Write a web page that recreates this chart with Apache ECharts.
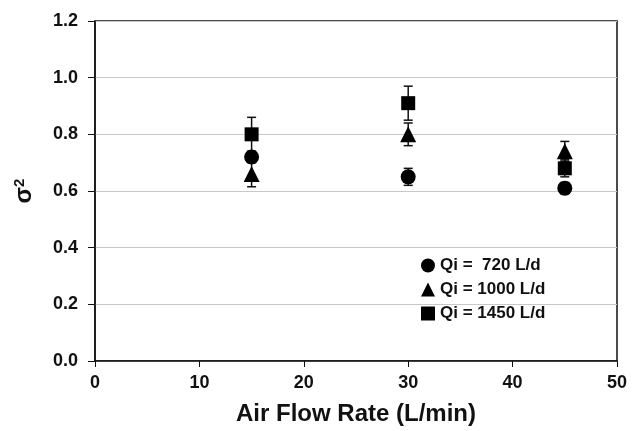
<!DOCTYPE html>
<html><head><meta charset="utf-8">
<script src="https://cdn.jsdelivr.net/npm/echarts@6/dist/echarts.min.js"></script>
<style>html,body{margin:0;padding:0;background:#fff}#c{width:632px;height:431px}</style>
</head><body><div id="c"></div>
<script>
const airFlow = [15, 30, 45];
const names = ['Qi =  720 L/d', 'Qi = 1000 L/d', 'Qi = 1450 L/d'];
const q720 = [0.72, 0.65, 0.61];
const q720Err = [0.02, 0.03, 0.02];
const q1000 = [0.66, 0.80, 0.74];
const q1000Err = [0.045, 0.04, 0.035];
const q1450 = [0.80, 0.91, 0.68];
const q1450Err = [0.06, 0.06, 0.03];
const xTicks = [0, 10, 20, 30, 40, 50];
const yTicks = [0, 0.2, 0.4, 0.6, 0.8, 1.0, 1.2];

const symbols = ['circle', 'triangle', 'rect'];
const sizes = [15, 16, 14];
const vals = [q720, q1000, q1450];
const errs = [q720Err, q1000Err, q1450Err];
const font = 'Arial, "Liberation Sans", sans-serif';

const series = [];
vals.forEach((v, i) => {
  series.push({
    type: 'custom',
    name: names[i] + '_err',
    data: airFlow.map((x, j) => [x, v[j] - errs[i][j], v[j] + errs[i][j]]),
    renderItem: function (params, api) {
      const lo = api.coord([api.value(0), api.value(1)]);
      const hi = api.coord([api.value(0), api.value(2)]);
      const w = 4.5;
      const st = { stroke: '#111', lineWidth: 1.5 };
      return {
        type: 'group',
        children: [
          { type: 'line', shape: { x1: lo[0], y1: lo[1], x2: hi[0], y2: hi[1] }, style: st },
          { type: 'line', shape: { x1: lo[0] - w, y1: lo[1], x2: lo[0] + w, y2: lo[1] }, style: st },
          { type: 'line', shape: { x1: hi[0] - w, y1: hi[1], x2: hi[0] + w, y2: hi[1] }, style: st }
        ]
      };
    },
    z: 1
  });
  series.push({
    type: 'scatter',
    name: names[i],
    symbol: symbols[i],
    symbolSize: sizes[i],
    itemStyle: { color: '#000', opacity: 1 },
    data: airFlow.map((x, j) => [x, v[j]]),
    z: 3
  });
});

const chart = echarts.init(document.getElementById('c'));
chart.setOption({
  animation: false,
  backgroundColor: '#fff',
  grid: { left: 95, right: 15, top: 21, bottom: 69, show: true, borderColor: '#111', borderWidth: 1.5 },
  legend: {
    data: names.map((n, i) => ({ name: n, icon: symbols[i] })),
    orient: 'vertical',
    left: 416, top: 252,
    itemWidth: 14, itemHeight: 14, itemGap: 7,
    textStyle: { fontFamily: font, fontWeight: 'bold', fontSize: 17, color: '#111', padding: [0, 0, 0, 0] }
  },
  xAxis: {
    type: 'value', min: 0, max: 50, interval: 10,
    name: 'Air Flow Rate (L/min)', nameLocation: 'middle', nameGap: 41,
    nameTextStyle: { fontFamily: font, fontWeight: 'bold', fontSize: 24, color: '#111' },
    axisLine: { lineStyle: { color: '#111', width: 1.5 } },
    axisTick: { show: true, inside: false, length: 6, lineStyle: { color: '#111' } },
    axisLabel: { fontFamily: font, fontWeight: 'bold', fontSize: 18, color: '#111', margin: 13,
      formatter: v => xTicks.includes(v) ? String(v) : '' },
    splitLine: { show: false }
  },
  yAxis: {
    type: 'value', min: 0, max: 1.2, interval: 0.2,
    name: 'σ{s|2}', nameLocation: 'middle', nameGap: 58, nameRotate: 90,
    nameTextStyle: { fontFamily: font, fontWeight: 'bold', fontSize: 24, color: '#111',
      rich: { s: { fontFamily: font, fontWeight: 'bold', fontSize: 15, color: '#111', verticalAlign: 'top', padding: [0, 0, 10, 0] } } },
    axisLine: { lineStyle: { color: '#111', width: 1.5 } },
    axisTick: { show: true, inside: false, length: 7, lineStyle: { color: '#111' } },
    axisLabel: { fontFamily: font, fontWeight: 'bold', fontSize: 18, color: '#111', margin: 17,
      formatter: v => yTicks.some(t => Math.abs(t - v) < 1e-9) ? v.toFixed(1) : '' },
    splitLine: { show: true, lineStyle: { color: '#c8c8c8', width: 1 } }
  },
  series: series
});
</script></body></html>
